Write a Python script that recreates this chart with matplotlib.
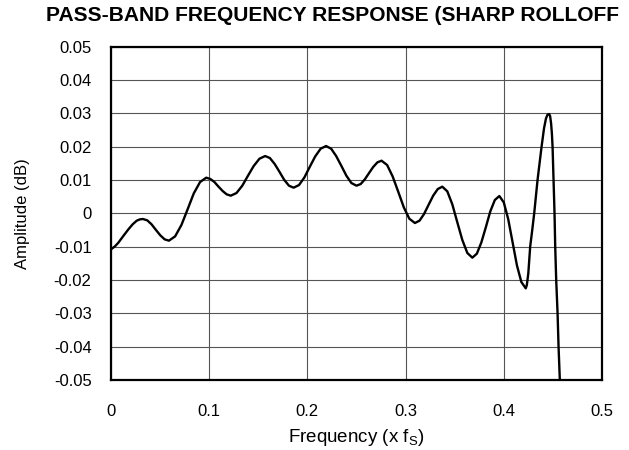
import matplotlib
matplotlib.use("Agg")
import matplotlib.pyplot as plt

plt.rcParams["font.family"] = ["Liberation Sans", "DejaVu Sans"]

# Pass-band ripple, one row per half-cycle
freq = [0.0000, 0.0040, 0.0075, 0.0125, 0.0177, 0.0220, 0.0262, 0.0295,
        0.0325, 0.0369, 0.0413, 0.0458, 0.0502, 0.0546,
        0.0590, 0.0653, 0.0717, 0.0780, 0.0843, 0.0907,
        0.0970, 0.1012, 0.1053, 0.1095, 0.1137, 0.1178,
        0.1220, 0.1278, 0.1337, 0.1395, 0.1453, 0.1512,
        0.1570, 0.1618, 0.1667, 0.1715, 0.1763, 0.1812,
        0.1860, 0.1915, 0.1970, 0.2025, 0.2080, 0.2135,
        0.2190, 0.2242, 0.2293, 0.2345, 0.2397, 0.2448,
        0.2500, 0.2543, 0.2585, 0.2628, 0.2670, 0.2713,
        0.2755, 0.2812, 0.2868, 0.2925, 0.2982, 0.3038,
        0.3095, 0.3142, 0.3188, 0.3235, 0.3281, 0.3328,
        0.3374, 0.3425, 0.3476, 0.3527, 0.3578, 0.3629,
        0.3680, 0.3726, 0.3772, 0.3818, 0.3863, 0.3909,
        0.3955, 0.4000, 0.4045, 0.4090, 0.4134, 0.4179,
        0.4224, 0.4235, 0.4250, 0.4269, 0.4290, 0.4310, 0.4344, 0.4385, 0.4410, 0.4430, 0.4446,
        0.4462, 0.4472, 0.4482, 0.4490, 0.4497, 0.4507, 0.4517, 0.4524, 0.4534, 0.4548, 0.4558,
        0.4571, 0.4580]
amp = [-0.0108, -0.0099, -0.0088, -0.0068, -0.0048, -0.0033, -0.0022, -0.0018,
       -0.0017, -0.0021, -0.0033, -0.0050, -0.0066, -0.0078,
       -0.0082, -0.0069, -0.0035, 0.0012, 0.0060, 0.0094,
       0.0107, 0.0103, 0.0094, 0.0080, 0.0067, 0.0057,
       0.0053, 0.0061, 0.0083, 0.0113, 0.0142, 0.0164,
       0.0172, 0.0166, 0.0148, 0.0125, 0.0101, 0.0083,
       0.0077, 0.0085, 0.0108, 0.0140, 0.0171, 0.0194,
       0.0202, 0.0194, 0.0172, 0.0143, 0.0113, 0.0091,
       0.0083, 0.0088, 0.0102, 0.0121, 0.0139, 0.0153,
       0.0158, 0.0145, 0.0111, 0.0065, 0.0018, -0.0016,
       -0.0029, -0.0022, -0.0002, 0.0026, 0.0053, 0.0073,
       0.0080, 0.0066, 0.0027, -0.0027, -0.0080, -0.0119,
       -0.0133, -0.0121, -0.0087, -0.0041, 0.0006, 0.0040,
       0.0052, 0.0033, -0.0017, -0.0087, -0.0156, -0.0206,
       -0.0225, -0.0215, -0.0180, -0.0100, -0.0050, 0.0000, 0.0100, 0.0200, 0.0255, 0.0285, 0.0296,
       0.0298, 0.0292, 0.0270, 0.0240, 0.0200, 0.0100, 0.0000, -0.0100, -0.0200, -0.0300, -0.0400,
       -0.0500, -0.0560]

xticks = [0, 0.1, 0.2, 0.3, 0.4, 0.5]
xtick_labels = ["0", "0.1", "0.2", "0.3", "0.4", "0.5"]
yticks = [-0.05, -0.04, -0.03, -0.02, -0.01, 0, 0.01, 0.02, 0.03, 0.04, 0.05]
ytick_labels = ["-0.05", "-0.04", "-0.03", "-0.02", "-0.01", "0",
                "0.01", "0.02", "0.03", "0.04", "0.05"]

# title as it shows in the reference (closing bracket falls off the page there)
title = "PASS-BAND FREQUENCY RESPONSE (SHARP ROLLOFF"

fig = plt.figure(figsize=(6.29, 4.5), dpi=100)
ax = fig.add_axes([0.1765, 0.1556, 0.7805, 0.7406])

ax.plot(freq, amp, color="black", linewidth=1.7, solid_joinstyle="round")

ax.set_xlim(0, 0.5)
ax.set_ylim(-0.05, 0.05)
ax.set_xticks(xticks)
ax.set_xticklabels(xtick_labels)
ax.set_yticks(yticks)
ax.set_yticklabels(ytick_labels)
ax.tick_params(length=0, labelsize=12)
ax.tick_params(axis="y", pad=14)
ax.tick_params(axis="x", pad=17)
ax.grid(True, color="#555555", linewidth=0.8)
ax.set_axisbelow(True)
for s in ax.spines.values():
    s.set_linewidth(1.6)

ax.set_xlabel("Frequency (x f$_\\mathregular{S}$)", fontsize=13.5, labelpad=6)
ax.set_ylabel("Amplitude (dB)", fontsize=12, labelpad=17)

fig.text(46 / 629, 1 - 6 / 450, title,
         fontsize=15.1, fontweight="bold", ha="left", va="top")

fig.savefig("out.png", dpi=100)
